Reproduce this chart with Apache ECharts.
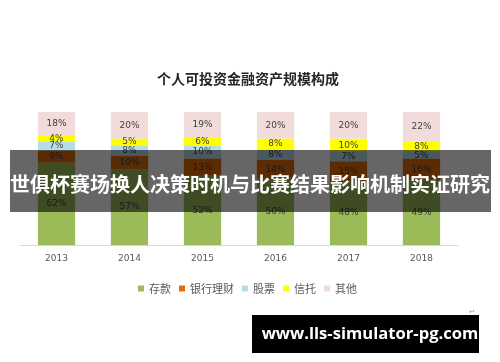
<!DOCTYPE html>
<html><head><meta charset="utf-8">
<script src="https://cdn.jsdelivr.net/npm/echarts@6/dist/echarts.min.js"></script>
<style>html,body{margin:0;padding:0;background:#fff}#c{width:500px;height:362px}</style>
</head><body><div id="c"></div>
<script>
const years = ['2013','2014','2015','2016','2017','2018'];
const deposit = [62,57,52,50,48,49];
const bankWealth = [9,10,13,14,15,16];
const stocks = [7,8,10,8,7,5];
const trust = [4,5,6,8,10,8];
const other = [18,20,19,20,20,22];
const seriesNames = ['存款','银行理财','股票','信托','其他'];
const seriesData = [deposit, bankWealth, stocks, trust, other];
const colors = ['#9BBB59','#E46C0A','#B7DEE8','#FFFF00','#F2DCDB'];

const chart = echarts.init(document.getElementById('c'));
chart.setOption({
  animation:false,
  title:{text:'个人可投资金融资产规模构成',left:243,top:67,textAlign:'center',
    textStyle:{fontSize:14,fontWeight:'bold',color:'#262626',fontFamily:'Noto Sans CJK SC'}},
  legend:{bottom:63,left:133,icon:'rect',itemWidth:6,itemHeight:6,itemGap:8,
    textStyle:{fontSize:11,color:'#595959',fontFamily:'Noto Sans CJK SC'},data:seriesNames},
  grid:{left:20,right:42,top:112,bottom:117},
  xAxis:{type:'category',data:years,axisTick:{show:false},
    axisLine:{lineStyle:{color:'#D9D9D9'}},
    axisLabel:{fontSize:9,color:'#595959',margin:9,fontFamily:'DejaVu Sans'}},
  yAxis:{type:'value',min:0,max:100,show:false,splitLine:{show:false}},
  series: seriesNames.map((n,i)=>({
    name:n,type:'bar',stack:'s',barWidth:'51%',data:seriesData[i],
    itemStyle:{color:colors[i]},
    label:{show:true,position:'inside',formatter:'{c}%',fontSize:9,color:'#404040',fontFamily:'DejaVu Sans'}
  })),
  graphic:[
    {type:'rect',z:100,shape:{x:10,y:150,width:481,height:62},style:{fill:'rgba(0,0,0,0.6)'}},
    {type:'text',z:101,x:250,y:184,style:{text:'世俱杯赛场换人决策时机与比赛结果影响机制实证研究',
      fill:'#fff',font:'bold 20px "Noto Sans CJK SC"',textAlign:'center',textVerticalAlign:'middle'}},
    {type:'rect',z:100,shape:{x:252,y:315,width:227,height:38},style:{fill:'#000'}},
    {type:'text',z:101,x:370,y:334,style:{text:'www.lls-simulator-pg.com',
      fill:'#fff',font:'bold 16.6px "Open Sans"',textAlign:'center',textVerticalAlign:'middle'}},
    {type:'text',z:101,x:472,y:312,style:{text:'↵',fill:'#999',font:'7px sans-serif',textAlign:'center',textVerticalAlign:'middle'}}
  ]
});
</script></body></html>
